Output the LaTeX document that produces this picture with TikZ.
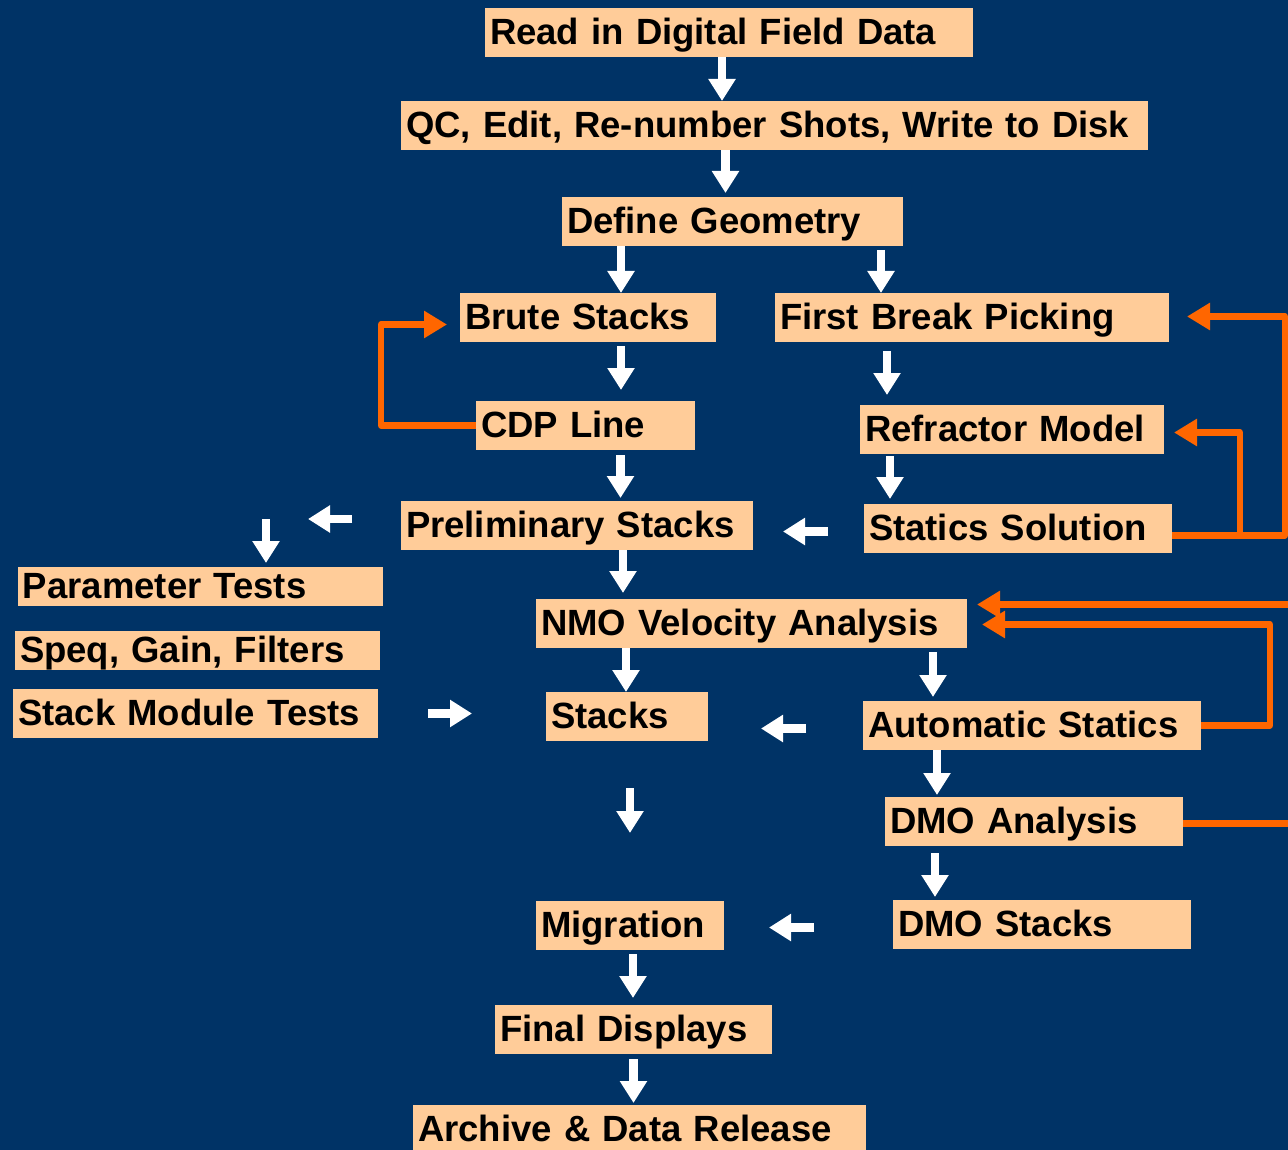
\documentclass[tikz,border=0pt]{standalone}
\usepackage{fontspec}
\setmainfont{Liberation Sans}
\usetikzlibrary{arrows.meta}

\definecolor{navy}{RGB}{0,51,102}
\definecolor{peach}{RGB}{255,204,153}
\definecolor{flame}{RGB}{255,102,0}

\begin{document}
\begin{tikzpicture}[
    x=1pt, y=-1pt,
    every node/.style={font=\fontsize{36.5}{40}\selectfont\bfseries},
    stepbox/.style={fill=peach, anchor=north west, inner xsep=5pt, inner ysep=0pt, outer sep=0pt,
      minimum height=49pt, text height=30pt, text depth=6pt, align=left},
    flow/.style={draw=white, line width=8.5pt, -{Triangle[length=22pt, width=26pt]}},
    feedback/.style={draw=flame, line width=6.5pt, line join=round, -{Triangle[length=23pt, width=26pt]}}
  ]
    % Background
    \useasboundingbox (0,0) rectangle (1288,1150);
    \fill[navy] (0,0) rectangle (1288,1150);
    \clip (0,0) rectangle (1288,1150);

    % Main processing boxes
    \node[stepbox, text width=478pt] (read) at (485,8) {Read in Digital Field Data};
    \node[stepbox, text width=737pt] (qc) at (401,101) {QC, Edit, Re-number Shots, Write to Disk};
    \node[stepbox, text width=331pt] (geom) at (562,197) {Define Geometry};
    \node[stepbox, text width=246pt] (brute) at (460,293) {Brute Stacks};
    \node[stepbox, text width=384pt] (fbp) at (775,293) {First Break Picking};
    \node[stepbox, text width=209pt] (cdp) at (476,401) {CDP Line};
    \node[stepbox, text width=294pt] (refr) at (860,405) {Refractor Model};
    \node[stepbox, text width=342pt] (prelim) at (401,501) {Preliminary Stacks};
    \node[stepbox, text width=298pt] (statics) at (864,504) {Statics Solution};
    \node[stepbox, text width=421pt] (nmo) at (536,599) {NMO Velocity Analysis};
    \node[stepbox, text width=152pt] (stacks) at (546,692) {Stacks};
    \node[stepbox, text width=328pt] (autostat) at (863,701) {Automatic Statics};
    \node[stepbox, text width=288pt] (dmoan) at (885,797) {DMO Analysis};
    \node[stepbox, text width=178pt] (migr) at (536,901) {Migration};
    \node[stepbox, text width=288pt] (dmostk) at (893,900) {DMO Stacks};
    \node[stepbox, text width=267pt] (final) at (495,1005) {Final Displays};
    \node[stepbox, text width=443pt] (archive) at (413,1105) {Archive \& Data Release};

    % Test boxes (left)
    \node[stepbox, text width=355pt, minimum height=39pt] (ptest) at (18,567) {Parameter Tests};
    \node[stepbox, text width=355pt, minimum height=39pt] (speq) at (15,631) {Speq, Gain, Filters};
    \node[stepbox, text width=355pt] (smt) at (13,689) {Stack Module Tests};
    \coordinate (ptin) at (266,519);

    % Main flow arrows
    \draw[flow] ([xshift=-7]read.south) -- ([xshift=-7]read.south |- qc.north);
    \draw[flow, shorten >=4pt] ([xshift=-7]geom.north |- qc.south) -- ([xshift=-7]geom.north);
    \draw[flow] ([xshift=33]brute.north |- geom.south) -- ([xshift=33]brute.north);
    \draw[flow, shorten <=4pt] ([xshift=-91]fbp.north |- geom.south) -- ([xshift=-91]fbp.north);
    \draw[flow, shorten <=4pt, shorten >=11pt] ([xshift=33]brute.south) -- ([xshift=33]brute.south |- cdp.north);
    \draw[flow, shorten <=9pt, shorten >=10pt] ([xshift=-125]refr.north |- fbp.south) -- ([xshift=-125]refr.north);
    \draw[flow, shorten <=5pt, shorten >=3pt] ([xshift=35]cdp.south) -- ([xshift=35]cdp.south |- prelim.north);
    \draw[flow, shorten <=2pt, shorten >=5pt] ([xshift=-128]statics.north |- refr.south) -- ([xshift=-128]statics.north);
    \draw[flow, shorten >=6pt] ([xshift=46]prelim.south) -- ([xshift=46]prelim.south |- nmo.north);
    \draw[flow, shorten <=36pt, shorten >=30pt] ([yshift=-3]statics.west) -- ([yshift=-3]statics.west -| prelim.east);
    \draw[flow] ([xshift=-1]stacks.north |- nmo.south) -- ([xshift=-1]stacks.north);
    \draw[flow, shorten <=4pt, shorten >=4pt] ([xshift=-99]autostat.north |- nmo.south) -- ([xshift=-99]autostat.north);
    \draw[flow, shorten <=57pt, shorten >=53pt] ([yshift=-3]autostat.west) -- ([yshift=-3]autostat.west -| stacks.east);
    \draw[flow, shorten >=2pt] ([xshift=-97]dmoan.north |- autostat.south) -- ([xshift=-97]dmoan.north);
    \draw[flow, shorten <=47pt, shorten >=68pt] (migr.north |- stacks.south) -- (migr.north);
    \draw[flow, shorten <=7pt, shorten >=3pt] ([xshift=-107]dmostk.north |- dmoan.south) -- ([xshift=-107]dmostk.north);
    \draw[flow, shorten <=79pt, shorten >=45pt] ([yshift=-3]dmostk.west) -- ([yshift=-3]dmostk.west -| migr.east);
    \draw[flow, shorten <=4pt, shorten >=7pt] ([xshift=3]migr.south) -- ([xshift=3]migr.south |- final.north);
    \draw[flow, shorten <=5pt, shorten >=2pt] (final.south) -- (final.south |- archive.north);

    % Side arrows to and from the tests
    \draw[flow, shorten <=49pt, shorten >=42pt] (prelim.west |- ptin) -- (ptin);
    \draw[flow, shorten >=4pt] (ptin) -- (ptin |- ptest.north);
    \draw[flow, shorten <=50pt, shorten >=74pt] (smt.east) -- (smt.east -| stacks.west);

    % Feedback loops
    \draw[feedback] (cdp.west) -- ++(-95,0) |- ([xshift=-13,yshift=-7]brute.west);
    \draw[feedback] ([yshift=-7]statics.east) -- ++(68,0) |- ([xshift=10,yshift=-3]refr.east);
    \draw[feedback] ([yshift=-7]statics.east) -- ++(113,0) |- ([xshift=18,yshift=1]fbp.east);
    \draw[feedback] (autostat.east) -- ++(69,0) |- ([xshift=15,yshift=-1]nmo.east);
    \draw[feedback] ([yshift=-2]dmoan.east) -- ++(130,0) |- ([xshift=10,yshift=19]nmo.east);
  \end{tikzpicture}
\end{document}
